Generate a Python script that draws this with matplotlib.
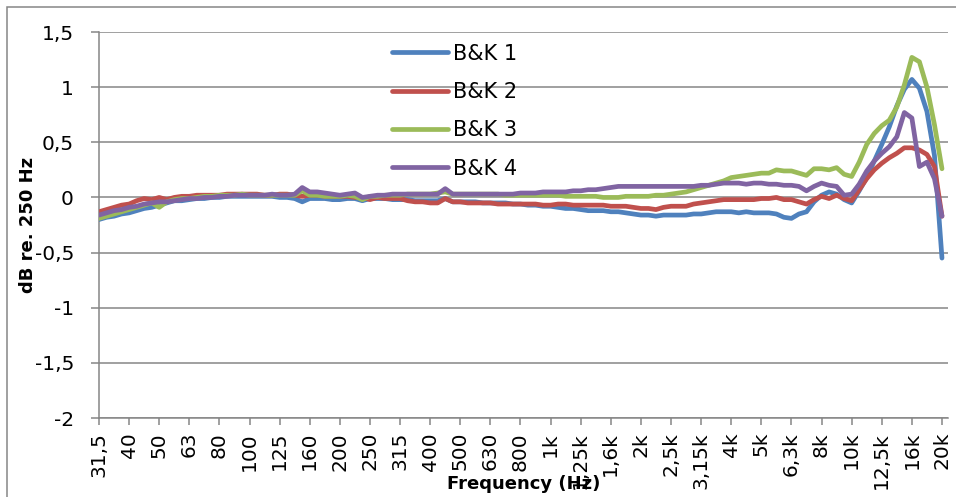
import numpy as np
import matplotlib
matplotlib.use("Agg")
import matplotlib.pyplot as plt
from matplotlib.patches import Rectangle

# third-octave band labels (one tick every 4 points, data is 1/12 octave)
band_labels = ["31,5", "40", "50", "63", "80", "100", "125", "160", "200", "250",
               "315", "400", "500", "630", "800", "1k", "1,25k", "1,6k", "2k",
               "2,5k", "3,15k", "4k", "5k", "6,3k", "8k", "10k", "12,5k", "16k", "20k"]

bk1 = [-0.20, -0.18, -0.17, -0.15, -0.14, -0.12, -0.10, -0.09, -0.07, -0.05,
       -0.03, -0.03, -0.02, -0.01, -0.01, 0.00, 0.00, 0.01, 0.01, 0.01,
       0.01, 0.01, 0.01, 0.01, 0.00, 0.00, -0.01, -0.04, -0.01, -0.01,
       -0.01, -0.02, -0.02, -0.01, -0.01, -0.03, -0.01, -0.01, -0.01, -0.02,
       -0.02, -0.02, -0.03, -0.03, -0.03, -0.03, -0.01, -0.04, -0.04, -0.04,
       -0.04, -0.05, -0.05, -0.05, -0.05, -0.06, -0.06, -0.07, -0.07, -0.08,
       -0.08, -0.09, -0.10, -0.10, -0.11, -0.12, -0.12, -0.12, -0.13, -0.13,
       -0.14, -0.15, -0.16, -0.16, -0.17, -0.16, -0.16, -0.16, -0.16, -0.15,
       -0.15, -0.14, -0.13, -0.13, -0.13, -0.14, -0.13, -0.14, -0.14, -0.14,
       -0.15, -0.18, -0.19, -0.15, -0.13, -0.04, 0.02, 0.05, 0.03, -0.02,
       -0.05, 0.06, 0.18, 0.33, 0.48, 0.64, 0.83, 0.98, 1.07, 0.99,
       0.78, 0.38, -0.55]

bk2 = [-0.13, -0.11, -0.09, -0.07, -0.06, -0.03, -0.01, -0.02, 0.00, -0.02,
       0.00, 0.01, 0.01, 0.02, 0.02, 0.02, 0.02, 0.03, 0.03, 0.03,
       0.03, 0.03, 0.02, 0.02, 0.03, 0.03, 0.02, 0.01, 0.02, 0.02,
       0.01, 0.01, 0.01, 0.01, 0.00, 0.00, -0.02, 0.00, -0.01, -0.01,
       -0.01, -0.03, -0.04, -0.04, -0.05, -0.05, -0.01, -0.04, -0.04, -0.05,
       -0.05, -0.05, -0.05, -0.06, -0.06, -0.06, -0.06, -0.06, -0.06, -0.07,
       -0.07, -0.06, -0.06, -0.07, -0.07, -0.07, -0.07, -0.07, -0.08, -0.08,
       -0.08, -0.09, -0.10, -0.10, -0.11, -0.09, -0.08, -0.08, -0.08, -0.06,
       -0.05, -0.04, -0.03, -0.02, -0.02, -0.02, -0.02, -0.02, -0.01, -0.01,
       0.00, -0.02, -0.02, -0.04, -0.06, -0.02, 0.01, -0.01, 0.02, -0.01,
       -0.03, 0.07, 0.17, 0.25, 0.31, 0.36, 0.40, 0.45, 0.45, 0.43,
       0.39, 0.28, -0.17]

bk3 = [-0.19, -0.17, -0.15, -0.13, -0.11, -0.09, -0.07, -0.05, -0.09, -0.04,
       -0.02, -0.01, -0.01, 0.00, 0.01, 0.01, 0.02, 0.02, 0.02, 0.03,
       0.02, 0.02, 0.02, 0.02, 0.02, 0.02, 0.02, 0.06, 0.02, 0.02,
       0.01, 0.01, 0.01, 0.02, 0.01, -0.02, 0.01, 0.01, 0.02, 0.02,
       0.02, 0.03, 0.03, 0.03, 0.03, 0.04, 0.05, 0.03, 0.03, 0.03,
       0.03, 0.03, 0.03, 0.03, 0.02, 0.02, 0.02, 0.02, 0.02, 0.02,
       0.02, 0.02, 0.01, 0.01, 0.01, 0.01, 0.01, 0.00, 0.00, 0.00,
       0.01, 0.01, 0.01, 0.01, 0.02, 0.02, 0.03, 0.04, 0.05, 0.07,
       0.09, 0.11, 0.13, 0.15, 0.18, 0.19, 0.20, 0.21, 0.22, 0.22,
       0.25, 0.24, 0.24, 0.22, 0.20, 0.26, 0.26, 0.25, 0.27, 0.21,
       0.19, 0.32, 0.48, 0.58, 0.65, 0.70, 0.82, 1.02, 1.27, 1.23,
       1.00, 0.66, 0.26]

bk4 = [-0.16, -0.14, -0.12, -0.11, -0.09, -0.08, -0.06, -0.05, -0.04, -0.04,
       -0.03, -0.02, -0.01, -0.01, 0.00, 0.00, 0.01, 0.01, 0.02, 0.02,
       0.02, 0.02, 0.02, 0.03, 0.02, 0.02, 0.03, 0.09, 0.05, 0.05,
       0.04, 0.03, 0.02, 0.03, 0.04, 0.00, 0.01, 0.02, 0.02, 0.03,
       0.03, 0.03, 0.03, 0.03, 0.03, 0.03, 0.08, 0.03, 0.03, 0.03,
       0.03, 0.03, 0.03, 0.03, 0.03, 0.03, 0.04, 0.04, 0.04, 0.05,
       0.05, 0.05, 0.05, 0.06, 0.06, 0.07, 0.07, 0.08, 0.09, 0.10,
       0.10, 0.10, 0.10, 0.10, 0.10, 0.10, 0.10, 0.10, 0.10, 0.10,
       0.11, 0.11, 0.12, 0.13, 0.13, 0.13, 0.12, 0.13, 0.13, 0.12,
       0.12, 0.11, 0.11, 0.10, 0.06, 0.10, 0.13, 0.11, 0.10, 0.02,
       0.03, 0.12, 0.24, 0.33, 0.40, 0.46, 0.55, 0.77, 0.72, 0.28,
       0.32, 0.17, -0.17]

series = [("B&K 1", bk1, "#4F81BD"), ("B&K 2", bk2, "#C0504D"),
          ("B&K 3", bk3, "#9BBB59"), ("B&K 4", bk4, "#8064A2")]

plt.rcParams['font.family'] = ['DejaVu Sans']

W, H = 956, 497
fig = plt.figure(figsize=(W / 100, H / 100), dpi=100)
ax = fig.add_axes([99 / W, 79 / H, 849 / W, 386 / H])

grid_col = "#868686"
x = np.arange(len(bk1))
for name, vals, col in series:
    ax.plot(x, vals, color=col, lw=3.4, label=name, solid_capstyle="round",
            solid_joinstyle="round", zorder=3)

ax.set_ylim(-2, 1.5)
ax.set_yticks(np.arange(-2, 1.51, 0.5))
ax.set_yticklabels(["-2", "-1,5", "-1", "-0,5", "0", "0,5", "1", "1,5"])
ax.set_xlim(0, 112.8)
ax.set_xticks(np.arange(0, len(bk1), 4))
ax.set_xticklabels(band_labels, rotation=90)

ax.grid(axis="y", color=grid_col, lw=1.1)
ax.set_axisbelow(True)
for s in ["top", "right"]:
    ax.spines[s].set_visible(False)
for s in ["left", "bottom"]:
    ax.spines[s].set_color(grid_col)
    ax.spines[s].set_linewidth(1.1)
ax.tick_params(axis="y", length=6, width=1.1, color=grid_col, pad=12, labelsize=14.5)
ax.tick_params(axis="x", length=5, width=1.1, color=grid_col, pad=5, labelsize=14.5)

ax.set_xlabel("Frequency (Hz)", fontsize=13, fontweight="bold")
ax.xaxis.set_label_coords(0.5, -0.148)
ax.set_ylabel("dB re. 250 Hz", fontsize=13, fontweight="bold")
ax.yaxis.set_label_coords(-0.073, 0.5)

ax.legend(loc="upper left", bbox_to_anchor=(0.345, 0.97), frameon=False,
          fontsize=15, handlelength=2.7, handletextpad=0.25, labelspacing=0.88,
          borderpad=0, borderaxespad=0)

# chart area border
fig.patches.append(Rectangle((7 / W, -0.05), 1.1, 1 - 7 / H + 0.05,
                             transform=fig.transFigure, fill=False,
                             edgecolor=grid_col, lw=1.1))

fig.savefig("out.png", dpi=100)
